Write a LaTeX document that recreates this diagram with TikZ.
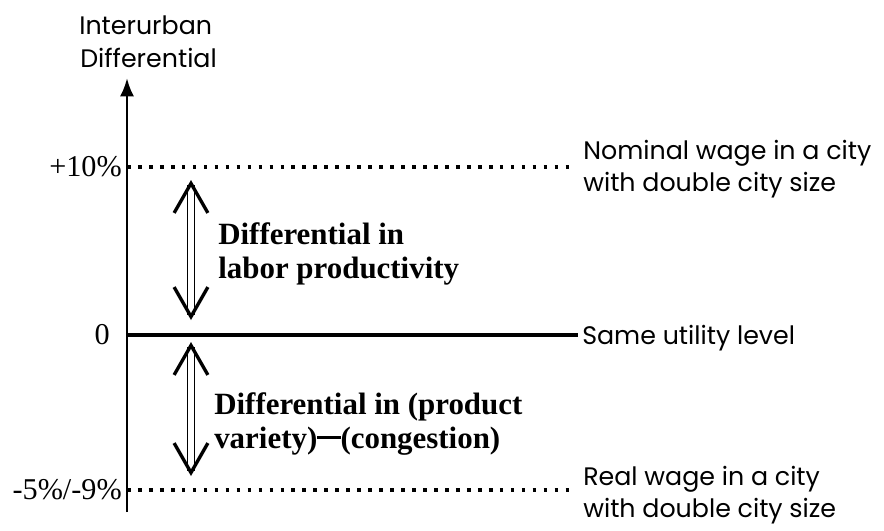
\documentclass[tikz,border=0pt]{standalone}
\usepackage{fontspec}
\setmainfont{Liberation Serif}
\newfontfamily\gothic{Poppins}
\usetikzlibrary{arrows.meta}

\begin{document}
\begin{tikzpicture}[
    lab/.style={font=\gothic\fontsize{18}{22.7}\selectfont, align=left, inner sep=0pt},
    bold/.style={font=\bfseries\fontsize{22}{24.5}\selectfont, align=left, inner sep=0pt},
    num/.style={font=\fontsize{21.5}{22}\selectfont, inner sep=0pt},
    dotline/.style={line width=2.6pt, dash pattern=on 2.6pt off 5.2pt},
    dbl/.style={double, double distance=4.2pt, line width=1.1pt,
        {Straight Barb[length=21pt,width=24pt,line width=2.4pt]}-{Straight Barb[length=21pt,width=24pt,line width=2.4pt]}}]
        \useasboundingbox (0, 0) rectangle (22.1, -13.275);
        \draw (1.975, -0.625) node(t1)[lab, anchor=west]{Interurban};
        \draw (2.0, -1.45) node(t2)[lab, anchor=west]{Differential};
        \coordinate (bot) at (3.175, -12.8);
        \coordinate (top) at (3.175, -1.95);
        \draw[line width=2pt, -{Latex[length=13pt,width=10pt]}] (bot) -- (top);
        \coordinate (a10) at (3.175, -4.175);
        \coordinate (b10) at (14.325, -4.175);
        \draw[dotline] (a10) -- (b10);
        \draw (3.05, -4.175) node(n10)[num, anchor=east]{+10\%};
        \draw (14.575, -4.225) node(r10)[lab, anchor=west]{Nominal wage in a city\\with double city size};
        \coordinate (a0) at (3.175, -8.375);
        \coordinate (b0) at (14.45, -8.375);
        \draw[line width=2.6pt] (a0) -- (b0);
        \draw (2.75, -8.375) node(n0)[num, anchor=east]{0};
        \draw (14.55, -8.45) node(r0)[lab, anchor=west]{Same utility level};
        \coordinate (a5) at (3.175, -12.25);
        \coordinate (b5) at (14.4, -12.25);
        \draw[dotline] (a5) -- (b5);
        \draw (3.05, -12.25) node(n5)[num, anchor=east]{-5\%/-9\%};
        \draw (14.575, -12.375) node(r5)[lab, anchor=west]{Real wage in a city\\with double city size};
        \coordinate (u1) at (4.775, -4.5);
        \coordinate (u2) at (4.775, -8.0);
        \draw[dbl] (u1) -- (u2);
        \draw (5.45, -6.35) node(m1)[bold, anchor=west]{Differential in\\labor productivity};
        \coordinate (l1) at (4.775, -8.55);
        \coordinate (l2) at (4.775, -11.9);
        \draw[dbl] (l1) -- (l2);
        \draw (5.35, -10.6) node(m2)[bold, anchor=west]{Differential in (product\\variety)\rule[0.3em]{0.75em}{0.1em}(congestion)};
    \end{tikzpicture}
\end{document}
